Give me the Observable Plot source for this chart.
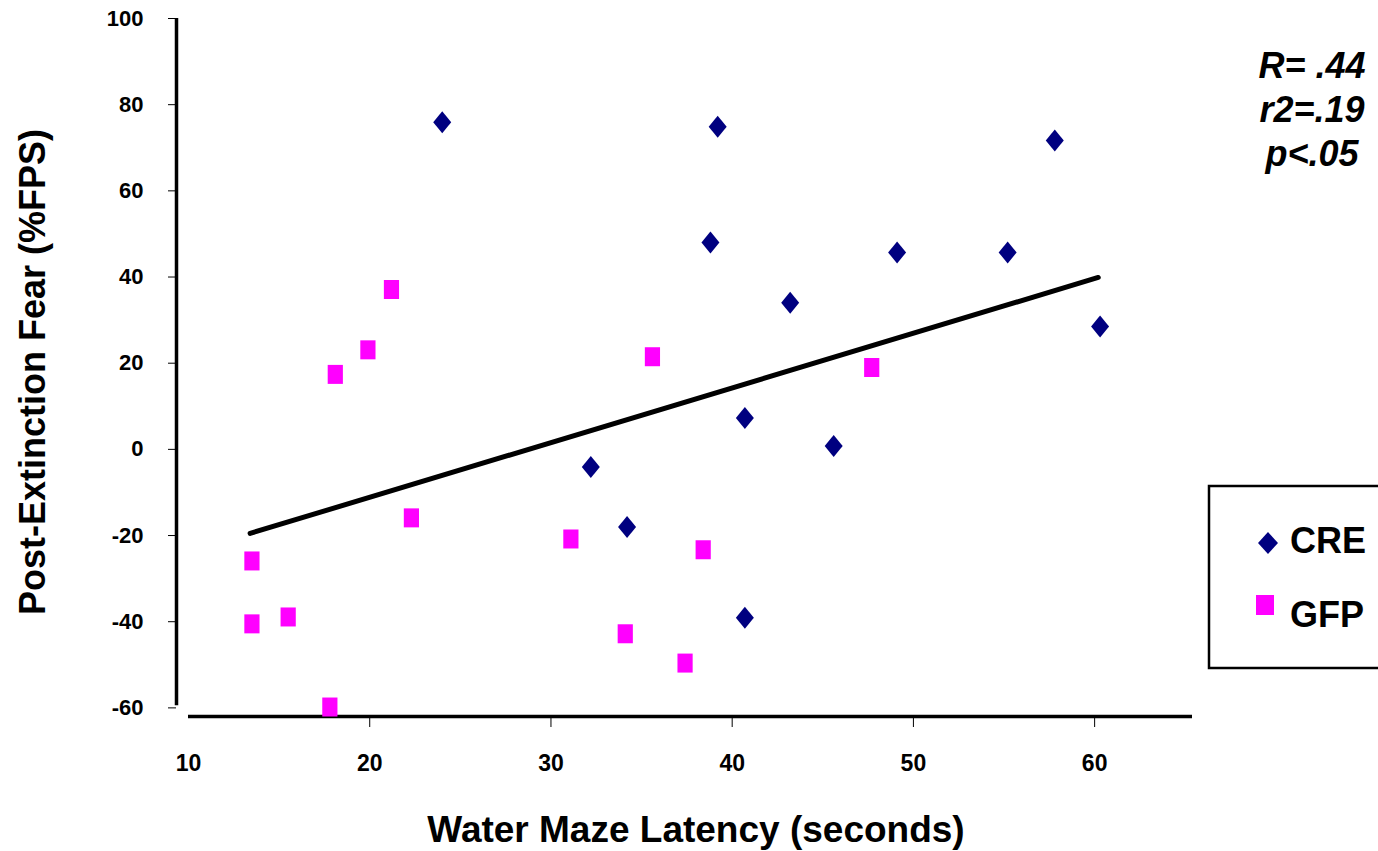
<!DOCTYPE html>
<html>
<head>
<meta charset="utf-8">
<script src="https://cdn.jsdelivr.net/npm/d3@7"></script>
<script src="https://cdn.jsdelivr.net/npm/@observablehq/plot@0.6"></script>
<style>
  body { margin: 0; background: #fff; }
  #chart { width: 1378px; height: 851px; overflow: hidden; }
</style>
</head>
<body>
<div id="chart"></div>
<script>
// ---- data ----
const creLatency = [24.0, 39.2, 57.8, 38.8, 49.1, 55.2, 43.2, 60.3, 40.7, 45.6, 32.2, 34.2, 40.7];
const creFear    = [75.9, 74.9, 71.7, 48.0, 45.7, 45.7, 34.0, 28.5, 7.3, 0.8, -4.1, -18.0, -39.1];
const gfpLatency = [21.2, 19.9, 18.1, 35.6, 47.7, 22.3, 31.1, 38.4, 13.5, 13.5, 15.5, 34.1, 37.4, 17.8];
const gfpFear    = [37.1, 23.1, 17.4, 21.5, 19.0, -15.9, -20.8, -23.3, -25.9, -40.5, -38.9, -42.8, -49.6, -59.8];
const trendLatency = [13.4, 60.2];
const trendFear    = [-19.5, 39.9];
const xTickLabels = [10, 20, 30, 40, 50, 60];
const xTickMarks  = [20, 30, 40, 50, 60];
const yTicks = [-60, -40, -20, 0, 20, 40, 60, 80, 100];
const seriesNames = ["CRE", "GFP"];
const statLines = ["R= .44", "r2=.19", "p<.05"];
const xTitle = "Water Maze Latency (seconds)";
const yTitle = "Post-Extinction Fear (%FPS)";

// axis geometry (in data units)
const xDomain = [9.338, 65.4];
const yDomain = [-62, 100];
const yAxisAt = 9.338;
const yAxisBottom = -59.5;
const xAxisAt = -62;
const xAxisFrom = 10;

const cre = creLatency.map((x, i) => ({x, y: creFear[i]}));
const gfp = gfpLatency.map((x, i) => ({x, y: gfpFear[i]}));
const trend = trendLatency.map((x, i) => ({x, y: trendFear[i]}));

const diamond = {
  draw(ctx) { const w = 9, h = 11; ctx.moveTo(0, -h); ctx.lineTo(w, 0); ctx.lineTo(0, h); ctx.lineTo(-w, 0); ctx.closePath(); }
};
const rectSym = {
  draw(ctx) { const w = 7.6, h = 9.5; ctx.moveTo(-w, -h); ctx.lineTo(w, -h); ctx.lineTo(w, h); ctx.lineTo(-w, h); ctx.closePath(); }
};

const FONT = "'Liberation Sans', Arial, Helvetica, sans-serif";
const NAVY = "#000080", MAGENTA = "#FF00FF";
const fmt = d => String(d);

const plot = Plot.plot({
  width: 1378,
  height: 851,
  marginLeft: 176,
  marginRight: 186,
  marginTop: 18,
  marginBottom: 135,
  style: { fontFamily: FONT, background: "#fff", color: "#000", overflow: "visible" },
  x: { domain: xDomain },
  y: { domain: yDomain },
  marks: [
    Plot.axisY(yTicks, { anchor: "left", tickSize: 8, tickPadding: 25, fontSize: 22, fontWeight: "bold", label: null, strokeWidth: 1, tickFormat: fmt }),
    Plot.axisX(xTickLabels, { anchor: "bottom", tickSize: 0, tickPadding: 38, fontSize: 23, fontWeight: "bold", label: null, tickFormat: fmt }),
    Plot.axisX(xTickMarks, { anchor: "bottom", tickSize: 11, tickFormat: () => "", label: null, strokeWidth: 1 }),
    Plot.ruleX([yAxisAt], { y1: yAxisBottom, y2: yDomain[1], stroke: "#000", strokeWidth: 3.5 }),
    Plot.ruleY([xAxisAt], { x1: xAxisFrom, x2: xDomain[1], stroke: "#000", strokeWidth: 3.5 }),
    Plot.dot(gfp, { x: "x", y: "y", symbol: rectSym, fill: MAGENTA, stroke: "none" }),
    Plot.dot(cre, { x: "x", y: "y", symbol: diamond, fill: NAVY, stroke: "none" }),
    Plot.line(trend, { x: "x", y: "y", stroke: "#000", strokeWidth: 5 })
  ]
});

const svg = d3.select(plot);
// axis titles
svg.append("text")
  .attr("x", 696).attr("y", 842)
  .attr("text-anchor", "middle")
  .style("font", `bold 37px ${FONT}`)
  .text(xTitle);
svg.append("text")
  .attr("transform", "translate(45,372) rotate(-90)")
  .attr("text-anchor", "middle")
  .style("font", `bold 36px ${FONT}`)
  .text(yTitle);

// stats
statLines.forEach((s, i) => {
  svg.append("text")
    .attr("x", 1312).attr("y", 78 + i * 44)
    .attr("text-anchor", "middle")
    .style("font", `italic bold 36px ${FONT}`)
    .text(s);
});

// legend
const lg = svg.append("g");
lg.append("rect").attr("x", 1209).attr("y", 486).attr("width", 200).attr("height", 182)
  .attr("fill", "#fff").attr("stroke", "#000").attr("stroke-width", 2.5);
lg.append("path").attr("d", "M1268,532 L1278,543 L1268,554 L1258,543 Z").attr("fill", NAVY);
lg.append("rect").attr("x", 1256).attr("y", 595).attr("width", 18).attr("height", 20).attr("fill", MAGENTA);
[[seriesNames[0], 553], [seriesNames[1], 627]].forEach(([t, y]) => {
  lg.append("text").attr("x", 1290).attr("y", y)
    .attr("text-anchor", "start")
    .style("font", `bold 36px ${FONT}`).text(t);
});

document.getElementById("chart").appendChild(plot);
</script>
</body>
</html>
